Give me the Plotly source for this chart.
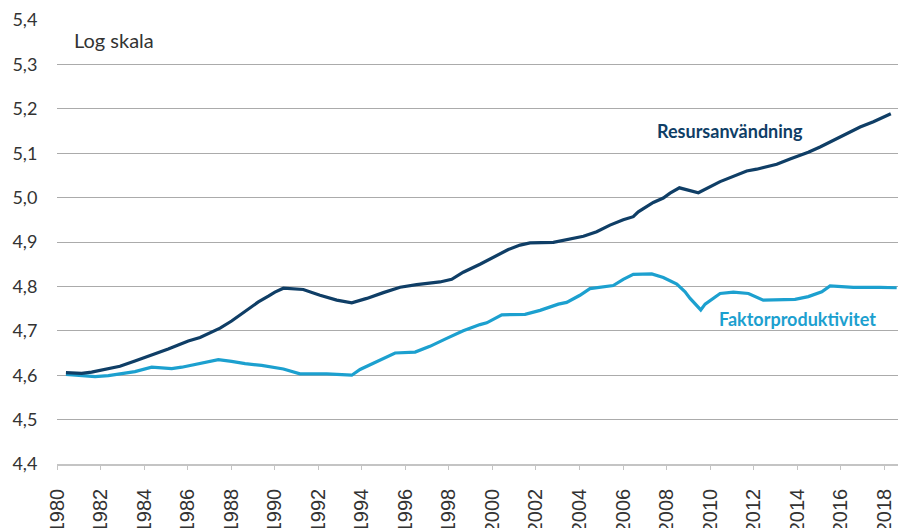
import plotly.graph_objects as go

# Resursanvändning (dark line): decimal year, log value
res_x = [1980.41, 1981.13, 1981.59, 1982.20, 1982.89, 1983.58, 1984.35, 1985.11, 1985.57,
         1986.03, 1986.57, 1986.95, 1987.49, 1988.02, 1988.64, 1989.25, 1989.71, 1990.01,
         1990.40, 1991.31, 1992.08, 1992.85, 1993.54, 1994.23, 1994.99, 1995.76, 1996.52,
         1997.59, 1998.13, 1998.66, 1999.43, 2000.27, 2000.73, 2001.27, 2001.73, 2002.80,
         2003.56, 2004.18, 2004.79, 2005.40, 2006.01, 2006.47, 2006.70, 2007.39, 2007.85,
         2008.16, 2008.59, 2009.08, 2009.46, 2010.46, 2011.15, 2011.68, 2012.14, 2012.60,
         2013.06, 2013.67, 2014.51, 2015.05, 2015.66, 2016.35, 2016.89, 2017.50, 2018.30]
res_y = [4.606, 4.604, 4.607, 4.613, 4.620, 4.632, 4.645, 4.659, 4.668,
         4.677, 4.685, 4.694, 4.706, 4.722, 4.743, 4.765, 4.778, 4.787,
         4.796, 4.793, 4.780, 4.769, 4.763, 4.773, 4.786, 4.798, 4.804,
         4.810, 4.816, 4.832, 4.850, 4.872, 4.883, 4.893, 4.898, 4.899,
         4.906, 4.913, 4.923, 4.938, 4.950, 4.957, 4.968, 4.989, 4.999,
         5.010, 5.022, 5.015, 5.011, 5.036, 5.049, 5.060, 5.064, 5.070,
         5.075, 5.087, 5.102, 5.114, 5.129, 5.144, 5.159, 5.171, 5.189]

# Faktorproduktivitet (light line)
fak_x = [1980.41, 1981.13, 1981.75, 1982.36, 1982.97, 1983.58, 1984.35, 1984.81, 1985.27,
         1985.73, 1986.34, 1986.95, 1987.41, 1988.02, 1988.64, 1989.40, 1990.01, 1990.40,
         1991.16, 1992.39, 1993.54, 1993.92, 1994.53, 1995.14, 1995.53, 1996.45, 1997.13,
         1997.90, 1998.66, 1999.43, 1999.74, 2000.43, 2001.50, 2002.19, 2003.03, 2003.41,
         2004.02, 2004.48, 2005.09, 2005.55, 2006.01, 2006.47, 2007.32, 2007.85, 2008.47,
         2008.85, 2009.08, 2009.57, 2009.77, 2010.46, 2011.07, 2011.76, 2012.44, 2013.21,
         2013.90, 2014.51, 2015.13, 2015.51, 2016.58, 2017.80, 2018.57]
fak_y = [4.602, 4.600, 4.597, 4.599, 4.604, 4.608, 4.618, 4.617, 4.615,
         4.618, 4.624, 4.630, 4.635, 4.631, 4.626, 4.622, 4.617, 4.614,
         4.603, 4.603, 4.600, 4.613, 4.627, 4.640, 4.650, 4.652, 4.665,
         4.683, 4.700, 4.714, 4.718, 4.736, 4.737, 4.746, 4.760, 4.764,
         4.780, 4.795, 4.798, 4.802, 4.816, 4.827, 4.828, 4.820, 4.805,
         4.788, 4.773, 4.747, 4.760, 4.784, 4.787, 4.784, 4.769, 4.771,
         4.771, 4.777, 4.788, 4.801, 4.798, 4.798, 4.797]

x_ticks = list(range(1980, 2019, 2))
x_labels = [str(y) for y in x_ticks]
y_ticks = [4.4, 4.5, 4.6, 4.7, 4.8, 4.9, 5.0, 5.1, 5.2, 5.3, 5.4]
y_labels = ["4,4", "4,5", "4,6", "4,7", "4,8", "4,9", "5,0", "5,1", "5,2", "5,3", "5,4"]

DARK = "#0f3e66"
LIGHT = "#1ca0cf"
TXT = "#333333"

fig = go.Figure()
fig.add_trace(go.Scatter(x=fak_x, y=fak_y, mode="lines", name="Faktorproduktivitet",
                         line=dict(color=LIGHT, width=3.2)))
fig.add_trace(go.Scatter(x=res_x, y=res_y, mode="lines", name="Resursanvändning",
                         line=dict(color=DARK, width=3.2)))

PLOT_TOP, PLOT_BOTTOM = 20, 464
PLOT_H = PLOT_BOTTOM - PLOT_TOP

annotations = [
    dict(text="Log skala", x=(72 - 57) / 841, y=1 - (39.5 - PLOT_TOP) / PLOT_H,
         xref="paper", yref="paper", showarrow=False,
         font=dict(size=20, color=TXT), xanchor="left", yanchor="middle"),
    dict(text="<b>Resursanvändning</b>", x=2010.89, y=5.150, xref="x", yref="y",
         showarrow=False, font=dict(size=18, color=DARK), xanchor="center", yanchor="middle"),
    dict(text="<b>Faktorproduktivitet</b>", x=2014.01, y=4.726, xref="x", yref="y",
         showarrow=False, font=dict(size=18, color=LIGHT), xanchor="center", yanchor="middle"),
]

# trailing no-break spaces push the rotated (end-anchored) year labels a little away from the axis
x_text = [lab + "\u00a0\u00a0" for lab in x_labels]

fig.update_layout(
    width=899, height=528,
    margin=dict(l=57, r=1, t=PLOT_TOP, b=528 - PLOT_BOTTOM, autoexpand=False),
    paper_bgcolor="white", plot_bgcolor="white",
    showlegend=False,
    font=dict(family="Lato", color=TXT),
    xaxis=dict(range=[1980, 2018.63], tickmode="array", tickvals=x_ticks, ticktext=x_text,
               tickangle=-90, showgrid=False, zeroline=False,
               showline=True, linecolor="#c4c4c4", linewidth=1.5,
               ticks="outside", ticklen=4, tickcolor="#c4c4c4", tickwidth=1,
               tickfont=dict(family="Arial", size=20, color=TXT)),
    yaxis=dict(range=[4.4, 5.4], tickmode="array", tickvals=y_ticks, ticktext=y_labels,
               showgrid=True, gridcolor="#ababab", gridwidth=1, zeroline=False,
               showline=False, ticks="outside", ticklen=15, tickcolor="rgba(0,0,0,0)",
               tickfont=dict(size=18, color=TXT)),
    annotations=annotations,
)

# Safety net: if the year labels were left unrotated, rotate them to -90 degrees in place.
post = r"""
document.body.style.margin = '0';
(function(){
  var Y0 = %d;
  function rotateLabels(){
    try {
      document.querySelectorAll('.xtick text').forEach(function(el){
        var tr = el.getAttribute('transform') || '';
        if (tr.indexOf('rotate') >= 0) return;
        var m = tr.match(/translate\(\s*([-\d.eE]+)/);
        var tx = m ? parseFloat(m[1]) : 0;
        var fs = parseFloat(el.style.fontSize) || 20;
        var xr = 0.36 * fs;
        el.removeAttribute('dy');
        el.setAttribute('text-anchor', 'end');
        el.setAttribute('x', xr);
        el.setAttribute('y', Y0);
        el.setAttribute('transform', 'translate(' + tx + ',0) rotate(-90,' + xr + ',' + Y0 + ')');
      });
    } catch (e) {}
  }
  rotateLabels();
  setTimeout(rotateLabels, 50);
  setTimeout(rotateLabels, 250);
  var gd = document.getElementById('{plot_id}');
  if (gd && gd.on) gd.on('plotly_afterplot', rotateLabels);
})();
""" % (PLOT_BOTTOM + 7)

fig.write_html("out.html", config={"displayModeBar": False}, post_script=post)
